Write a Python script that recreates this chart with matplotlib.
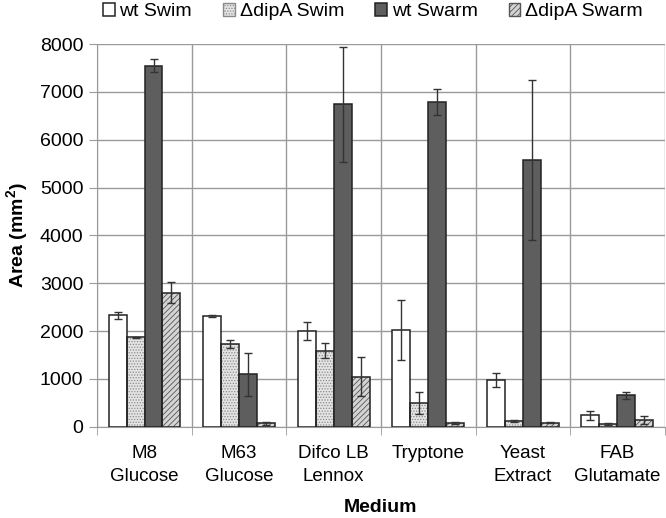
import matplotlib
matplotlib.use("Agg")
import matplotlib.pyplot as plt
import numpy as np

plt.rcParams["font.family"] = ["Liberation Sans", "DejaVu Sans"]
plt.rcParams["hatch.linewidth"] = 0.6

MEDIA = ["M8\nGlucose", "M63\nGlucose", "Difco LB\nLennox", "Tryptone", "Yeast\nExtract", "FAB\nGlutamate"]
SERIES = ["wt Swim", "\u0394dipA Swim", "wt Swarm", "\u0394dipA Swarm"]

WT_SWIM = [2330, 2320, 2000, 2020, 980, 240]
WT_SWIM_ERR = [75, 25, 185, 630, 155, 95]
DIPA_SWIM = [1870, 1735, 1590, 490, 126, 56]
DIPA_SWIM_ERR = [10, 90, 160, 230, 15, 15]
WT_SWARM = [7550, 1100, 6740, 6790, 5575, 658]
WT_SWARM_ERR = [130, 450, 1200, 280, 1670, 80]
DIPA_SWARM = [2800, 72, 1050, 80, 86, 145]
DIPA_SWARM_ERR = [220, 25, 410, 15, 15, 80]

VALS = [WT_SWIM, DIPA_SWIM, WT_SWARM, DIPA_SWARM]
ERRS = [WT_SWIM_ERR, DIPA_SWIM_ERR, WT_SWARM_ERR, DIPA_SWARM_ERR]
# (face, hatch, hatch colour)
STYLES = [("white", None, None),
          ("#e4e4e4", "......", "#8a8a8a"),
          ("#5e5e5e", None, None),
          ("#d4d4d4", "//////", "#555555")]

fig = plt.figure(figsize=(6.66, 5.18), dpi=100)
ax = fig.add_axes([0.146, 0.176, 0.852, 0.739])

x = np.arange(len(MEDIA))
w = 0.19
offs = (np.arange(4) - 1.5) * w
for vals, errs, (fc, hatch, hc), off, name in zip(VALS, ERRS, STYLES, offs, SERIES):
    if hatch:
        ax.bar(x + off, vals, w, color=fc, hatch=hatch, edgecolor=hc, linewidth=0, zorder=2)
        ax.bar(x + off, vals, w, facecolor="none", edgecolor="#222222", linewidth=1.1, zorder=3)
        ax.bar(0, 0, 0, color=fc, hatch=hatch, edgecolor=hc, label=name)
    else:
        ax.bar(x + off, vals, w, color=fc, edgecolor="#222222", linewidth=1.1, zorder=3, label=name)
    ax.errorbar(x + off, vals, yerr=errs, fmt="none", ecolor="#333333", elinewidth=1,
                capsize=3, capthick=1, zorder=4)

ax.set_xlim(-0.5, len(MEDIA) - 0.5)
ax.set_ylim(0, 8000)
ax.set_yticks(range(0, 8001, 1000))
ax.yaxis.grid(True, color="#9a9a9a", lw=1, zorder=0)
for b in np.arange(-0.5, len(MEDIA), 1.0):
    ax.axvline(b, color="#9a9a9a", lw=1, zorder=0)
ax.set_xticks(x)
ax.set_xticklabels(MEDIA, fontsize=13.5, linespacing=1.45)
ax.set_xticks(np.arange(-0.5, len(MEDIA), 1.0), minor=True)
ax.tick_params(axis="x", which="major", length=0, pad=13)
ax.tick_params(axis="x", which="minor", length=6, color="#9a9a9a")
ax.tick_params(axis="y", labelsize=14, length=6, color="#9a9a9a", pad=4)
for s in ["top", "right"]:
    ax.spines[s].set_visible(False)
for s in ["left", "bottom"]:
    ax.spines[s].set_color("#9a9a9a")

ax.set_ylabel("Area (mm$^{\\mathregular{2}}$)", fontsize=14, fontweight="bold", labelpad=6)
ax.set_xlabel("Medium", fontsize=14, fontweight="bold", labelpad=10)

fig.legend(loc="center", bbox_to_anchor=(0.56, 0.977), ncol=4, frameon=False, fontsize=14,
           handlelength=0.6, handleheight=0.6, handletextpad=0.25, columnspacing=1.6, borderaxespad=0)

plt.savefig("out.png", dpi=100)
